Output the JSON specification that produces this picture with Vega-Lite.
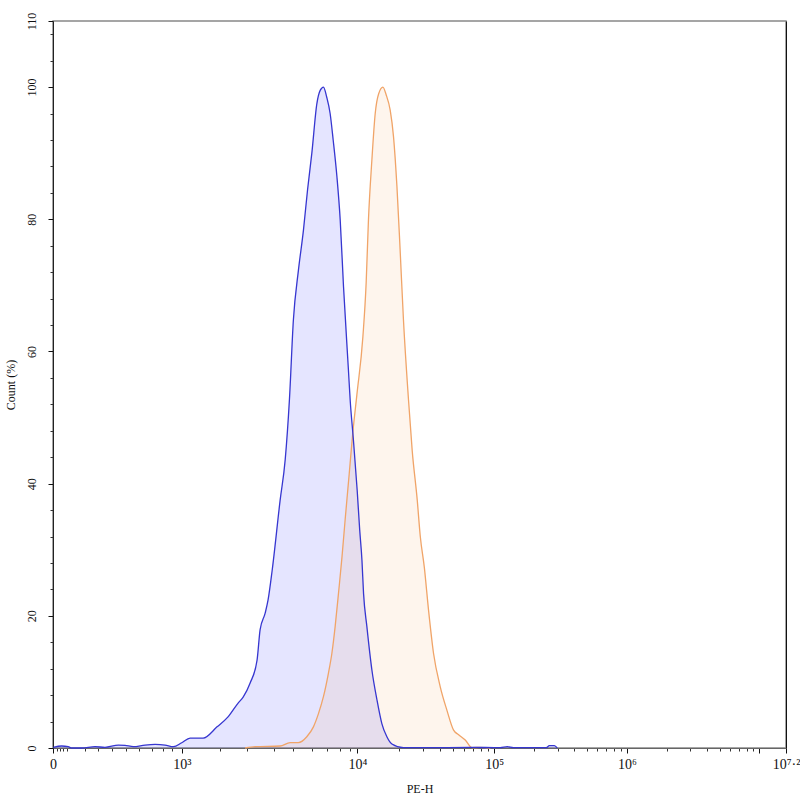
{
  "$schema": "https://vega.github.io/schema/vega-lite/v6.json",
  "width": 733,
  "height": 727,
  "autosize": {"type": "none"},
  "padding": {"left": 53, "top": 21, "right": 14, "bottom": 52},
  "background": "white",
  "datasets": {
    "hist": [
      {"sample": "Sample 1", "d": 1.674, "pct": 0.1},
      {"sample": "Sample 1", "d": 1.737, "pct": 0.3},
      {"sample": "Sample 1", "d": 1.787, "pct": 0.2},
      {"sample": "Sample 1", "d": 1.813, "pct": 0.0},
      {"sample": "Sample 1", "d": 1.888, "pct": 0.0},
      {"sample": "Sample 1", "d": 1.989, "pct": 0.2},
      {"sample": "Sample 1", "d": 2.064, "pct": 0.1},
      {"sample": "Sample 1", "d": 2.165, "pct": 0.45},
      {"sample": "Sample 1", "d": 2.215, "pct": 0.4},
      {"sample": "Sample 1", "d": 2.278, "pct": 0.2},
      {"sample": "Sample 1", "d": 2.366, "pct": 0.45},
      {"sample": "Sample 1", "d": 2.442, "pct": 0.55},
      {"sample": "Sample 1", "d": 2.517, "pct": 0.45},
      {"sample": "Sample 1", "d": 2.58, "pct": 0.2},
      {"sample": "Sample 1", "d": 2.643, "pct": 0.8},
      {"sample": "Sample 1", "d": 2.706, "pct": 1.5},
      {"sample": "Sample 1", "d": 2.804, "pct": 1.5},
      {"sample": "Sample 1", "d": 2.909, "pct": 3.2},
      {"sample": "Sample 1", "d": 2.992, "pct": 4.7},
      {"sample": "Sample 1", "d": 3.068, "pct": 6.8},
      {"sample": "Sample 1", "d": 3.106, "pct": 7.7},
      {"sample": "Sample 1", "d": 3.158, "pct": 9.8},
      {"sample": "Sample 1", "d": 3.211, "pct": 13.3},
      {"sample": "Sample 1", "d": 3.234, "pct": 17.9},
      {"sample": "Sample 1", "d": 3.272, "pct": 20.4},
      {"sample": "Sample 1", "d": 3.294, "pct": 22.4},
      {"sample": "Sample 1", "d": 3.325, "pct": 26.9},
      {"sample": "Sample 1", "d": 3.385, "pct": 37.5},
      {"sample": "Sample 1", "d": 3.423, "pct": 43.6},
      {"sample": "Sample 1", "d": 3.455, "pct": 52.7},
      {"sample": "Sample 1", "d": 3.485, "pct": 64.8},
      {"sample": "Sample 1", "d": 3.523, "pct": 72.3},
      {"sample": "Sample 1", "d": 3.561, "pct": 78.4},
      {"sample": "Sample 1", "d": 3.592, "pct": 84.5},
      {"sample": "Sample 1", "d": 3.624, "pct": 90.0},
      {"sample": "Sample 1", "d": 3.662, "pct": 97.5},
      {"sample": "Sample 1", "d": 3.687, "pct": 99.5},
      {"sample": "Sample 1", "d": 3.712, "pct": 100},
      {"sample": "Sample 1", "d": 3.736, "pct": 98.5},
      {"sample": "Sample 1", "d": 3.762, "pct": 96.0},
      {"sample": "Sample 1", "d": 3.785, "pct": 92.0},
      {"sample": "Sample 1", "d": 3.813, "pct": 86.5},
      {"sample": "Sample 1", "d": 3.838, "pct": 79.9},
      {"sample": "Sample 1", "d": 3.863, "pct": 69.8},
      {"sample": "Sample 1", "d": 3.9, "pct": 57.2},
      {"sample": "Sample 1", "d": 3.913, "pct": 52.7},
      {"sample": "Sample 1", "d": 3.936, "pct": 47.0},
      {"sample": "Sample 1", "d": 3.966, "pct": 39.0},
      {"sample": "Sample 1", "d": 3.985, "pct": 33.0},
      {"sample": "Sample 1", "d": 4.002, "pct": 28.4},
      {"sample": "Sample 1", "d": 4.014, "pct": 23.4},
      {"sample": "Sample 1", "d": 4.039, "pct": 18.4},
      {"sample": "Sample 1", "d": 4.077, "pct": 11.8},
      {"sample": "Sample 1", "d": 4.115, "pct": 7.3},
      {"sample": "Sample 1", "d": 4.152, "pct": 3.7},
      {"sample": "Sample 1", "d": 4.19, "pct": 1.7},
      {"sample": "Sample 1", "d": 4.228, "pct": 0.6},
      {"sample": "Sample 1", "d": 4.315, "pct": 0.05},
      {"sample": "Sample 1", "d": 4.517, "pct": 0.05},
      {"sample": "Sample 1", "d": 4.819, "pct": 0.1},
      {"sample": "Sample 1", "d": 5.045, "pct": 0.05},
      {"sample": "Sample 1", "d": 5.098, "pct": 0.2},
      {"sample": "Sample 1", "d": 5.143, "pct": 0.05},
      {"sample": "Sample 1", "d": 5.392, "pct": 0.05},
      {"sample": "Sample 1", "d": 5.415, "pct": 0.35},
      {"sample": "Sample 1", "d": 5.453, "pct": 0.35},
      {"sample": "Sample 1", "d": 5.475, "pct": 0.0},
      {"sample": "Sample 2", "d": 3.121, "pct": 0.0},
      {"sample": "Sample 2", "d": 3.196, "pct": 0.2},
      {"sample": "Sample 2", "d": 3.385, "pct": 0.3},
      {"sample": "Sample 2", "d": 3.46, "pct": 0.8},
      {"sample": "Sample 2", "d": 3.521, "pct": 0.8},
      {"sample": "Sample 2", "d": 3.586, "pct": 1.7},
      {"sample": "Sample 2", "d": 3.636, "pct": 3.2},
      {"sample": "Sample 2", "d": 3.674, "pct": 5.2},
      {"sample": "Sample 2", "d": 3.712, "pct": 7.8},
      {"sample": "Sample 2", "d": 3.749, "pct": 11.3},
      {"sample": "Sample 2", "d": 3.775, "pct": 14.3},
      {"sample": "Sample 2", "d": 3.8, "pct": 18.4},
      {"sample": "Sample 2", "d": 3.825, "pct": 23.4},
      {"sample": "Sample 2", "d": 3.851, "pct": 28.8},
      {"sample": "Sample 2", "d": 3.875, "pct": 34.5},
      {"sample": "Sample 2", "d": 3.906, "pct": 41.5},
      {"sample": "Sample 2", "d": 3.932, "pct": 47.5},
      {"sample": "Sample 2", "d": 3.964, "pct": 53.5},
      {"sample": "Sample 2", "d": 4.009, "pct": 62.2},
      {"sample": "Sample 2", "d": 4.034, "pct": 70.5},
      {"sample": "Sample 2", "d": 4.051, "pct": 79.9},
      {"sample": "Sample 2", "d": 4.077, "pct": 89.0},
      {"sample": "Sample 2", "d": 4.102, "pct": 96.0},
      {"sample": "Sample 2", "d": 4.128, "pct": 99.0},
      {"sample": "Sample 2", "d": 4.16, "pct": 100},
      {"sample": "Sample 2", "d": 4.185, "pct": 98.8},
      {"sample": "Sample 2", "d": 4.215, "pct": 96.5},
      {"sample": "Sample 2", "d": 4.24, "pct": 92.5},
      {"sample": "Sample 2", "d": 4.266, "pct": 84.9},
      {"sample": "Sample 2", "d": 4.291, "pct": 74.9},
      {"sample": "Sample 2", "d": 4.315, "pct": 64.8},
      {"sample": "Sample 2", "d": 4.353, "pct": 52.7},
      {"sample": "Sample 2", "d": 4.381, "pct": 45.0},
      {"sample": "Sample 2", "d": 4.419, "pct": 37.5},
      {"sample": "Sample 2", "d": 4.442, "pct": 32.0},
      {"sample": "Sample 2", "d": 4.472, "pct": 27.4},
      {"sample": "Sample 2", "d": 4.504, "pct": 20.9},
      {"sample": "Sample 2", "d": 4.542, "pct": 14.3},
      {"sample": "Sample 2", "d": 4.592, "pct": 9.3},
      {"sample": "Sample 2", "d": 4.643, "pct": 5.7},
      {"sample": "Sample 2", "d": 4.693, "pct": 2.7},
      {"sample": "Sample 2", "d": 4.731, "pct": 2.0},
      {"sample": "Sample 2", "d": 4.781, "pct": 1.2},
      {"sample": "Sample 2", "d": 4.832, "pct": 0.05},
      {"sample": "Sample 2", "d": 4.894, "pct": 0.1},
      {"sample": "Sample 2", "d": 4.97, "pct": 0.0}
    ]
  },
  "data": {"name": "hist"},
  "encoding": {
    "x": {
      "field": "d",
      "type": "quantitative",
      "scale": {"domain": [1.672, 7.2], "nice": false, "zero": false}
    },
    "y": {
      "field": "pct",
      "type": "quantitative",
      "scale": {"domain": [0, 110], "nice": false}
    }
  },
  "layer": [
    {
      "transform": [{"filter": "datum.sample == 'Sample 1'"}],
      "mark": {"type": "area", "interpolate": "monotone", "fill": "#0000ff", "fillOpacity": 0.1},
      "encoding": {
        "x": {
          "field": "d",
          "type": "quantitative",
          "axis": {
            "orient": "bottom",
            "title": null,
            "labels": false,
            "domain": false,
            "grid": false,
            "tickSize": 3,
            "tickColor": "#333",
            "values": [1.7, 1.725, 1.749, 1.775, 1.913, 2.015, 2.117, 2.219, 2.321, 2.419, 2.502, 2.57,
                       2.932, 3.134, 3.34, 3.485, 3.624, 3.737, 3.838, 3.913,
                       4.279, 4.46, 4.589, 4.689, 4.771, 4.84, 4.9, 4.953,
                       5.301, 5.477, 5.602, 5.699, 5.778, 5.845, 5.903, 5.954,
                       6.301, 6.477, 6.602, 6.699, 6.778, 6.845, 6.903, 6.954]
          }
        },
        "y": {
          "field": "pct",
          "type": "quantitative",
          "axis": {
            "orient": "left",
            "title": null,
            "labels": false,
            "domain": false,
            "grid": false,
            "tickSize": 3,
            "tickColor": "#333",
            "values": [4, 8, 12, 16, 24, 28, 32, 36, 44, 48, 52, 56, 64, 68, 72, 76, 84, 88, 92, 96, 104, 108]
          }
        }
      }
    },
    {
      "transform": [{"filter": "datum.sample == 'Sample 2'"}],
      "mark": {
        "type": "area",
        "interpolate": "monotone",
        "fill": "#f5a050",
        "fillOpacity": 0.1,
        "line": {"color": "#f0a468", "strokeWidth": 1.3}
      },
      "encoding": {
        "x": {
          "field": "d",
          "type": "quantitative",
          "axis": {
            "orient": "bottom",
            "title": "PE-H",
            "titleFont": "Liberation Serif",
            "titleFontSize": 12,
            "titleFontWeight": "normal",
            "titleColor": "#111",
            "titlePadding": 12,
            "labelFont": "Liberation Serif",
            "labelFontSize": 14,
            "labelColor": "#111",
            "labelPadding": 4,
            "labelFlush": false,
            "labelOverlap": false,
            "grid": false,
            "domainColor": "#666",
            "tickColor": "#111",
            "tickSize": 5,
            "values": [1.672, 2.643, 3.968, 5, 6, 7, 7.2],
            "labelExpr": "datum.value < 2 ? '0' : datum.value < 3 ? '10³' : datum.value < 4.5 ? '10⁴' : datum.value < 5.5 ? '10⁵' : datum.value < 6.5 ? '10⁶' : datum.value < 7.1 ? '' : '10⁷·²'"
          }
        },
        "y": {
          "field": "pct",
          "type": "quantitative",
          "axis": {
            "orient": "left",
            "title": "Count (%)",
            "titleFont": "Liberation Serif",
            "titleFontSize": 12,
            "titleFontWeight": "normal",
            "titleColor": "#111",
            "titlePadding": 8,
            "labelFont": "Liberation Serif",
            "labelFontSize": 12,
            "labelColor": "#111",
            "labelAngle": -90,
            "labelAlign": "center",
            "labelBaseline": "bottom",
            "labelPadding": 10,
            "labelFlush": false,
            "labelOverlap": false,
            "grid": false,
            "domainColor": "#222",
            "tickColor": "#111",
            "tickSize": 5,
            "values": [0, 20, 40, 60, 80, 100, 110]
          }
        }
      }
    },
    {
      "transform": [{"filter": "datum.sample == 'Sample 1'"}],
      "mark": {"type": "line", "interpolate": "monotone", "color": "#3636d0", "strokeWidth": 1.3},
      "encoding": {
        "x": {"field": "d", "type": "quantitative", "axis": null},
        "y": {
          "field": "pct",
          "type": "quantitative",
          "axis": {
            "orient": "right",
            "title": null,
            "labels": false,
            "ticks": false,
            "grid": false,
            "domainColor": "#111"
          }
        }
      }
    }
  ],
  "resolve": {"axis": {"x": "independent", "y": "independent"}},
  "config": {
    "view": {"stroke": "#888", "strokeWidth": 1.5}
  }
}
